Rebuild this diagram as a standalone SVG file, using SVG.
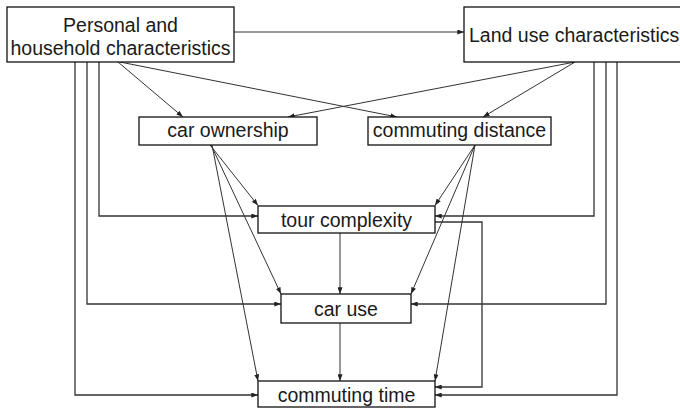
<svg xmlns="http://www.w3.org/2000/svg" width="680" height="408" viewBox="0 0 680 408">
  <defs>
    <marker id="arrow" viewBox="0 0 8 6" refX="8" refY="3" markerWidth="7" markerHeight="5" markerUnits="userSpaceOnUse" orient="auto">
      <path d="M0,0 L8,3 L0,6 z" fill="#222"/>
    </marker>
    <style>
      .box { fill: #fff; stroke: #111; stroke-width: 1.3; }
      .lbl { font-family: "Liberation Sans", Arial, sans-serif; font-size: 19.5px; fill: #1a1a1a; text-anchor: middle; }
      .edge { fill: none; stroke: #333; stroke-width: 1; marker-end: url(#arrow); }
      .route { fill: none; stroke: #333; stroke-width: 1.3; marker-end: url(#arrow); }
    </style>
  </defs>
  <rect width="680" height="408" fill="#fff"/>

  <!-- connectors -->
  <g id="connectors">
    <path class="edge" d="M234,32 H464"/>
    <path class="edge" d="M118,62 L183,117"/>
    <path class="edge" d="M120,62 L397,117"/>
    <path class="edge" d="M575,62 L288,117"/>
    <path class="edge" d="M575,62 L483,117"/>
    <path class="route" d="M99,62 V216 H258"/>
    <path class="route" d="M87,62 V304 H281"/>
    <path class="route" d="M75,62 V395 H258"/>
    <path class="route" d="M594,62 V216 H435"/>
    <path class="route" d="M606,62 V304 H411"/>
    <path class="route" d="M617,62 V395 H435"/>
    <path class="route" d="M435,222 H482 V387 H435"/>
    <path class="edge" d="M340,233 V294"/>
    <path class="edge" d="M340,323 V381"/>
    <path class="edge" d="M210,145 L258,205.5"/>
    <path class="edge" d="M211,145 L281,294"/>
    <path class="edge" d="M212,145 L258,381"/>
    <path class="edge" d="M475,145 L435,205.5"/>
    <path class="edge" d="M475,145 L411,294"/>
    <path class="edge" d="M475,145 L435,381"/>
  </g>

  <!-- nodes -->
  <g id="personal">
    <rect class="box" x="7" y="7" width="227" height="55"/>
    <text class="lbl" x="120.5" y="32">Personal and</text>
    <text class="lbl" x="120.5" y="55">household characteristics</text>
  </g>
  <g id="landuse">
    <rect class="box" x="464" y="7" width="230" height="55"/>
    <text class="lbl" x="469" y="42" text-anchor="start" style="text-anchor:start">Land use characteristics</text>
  </g>
  <g id="car-ownership">
    <rect class="box" x="139" y="117" width="178" height="28"/>
    <text class="lbl" x="228" y="137">car ownership</text>
  </g>
  <g id="commuting-distance">
    <rect class="box" x="368" y="117" width="183" height="28"/>
    <text class="lbl" x="459.5" y="137">commuting distance</text>
  </g>
  <g id="tour-complexity">
    <rect class="box" x="258" y="206" width="177" height="27"/>
    <text class="lbl" x="346.5" y="226.5">tour complexity</text>
  </g>
  <g id="car-use">
    <rect class="box" x="281" y="294" width="130" height="29"/>
    <text class="lbl" x="346" y="316">car use</text>
  </g>
  <g id="commuting-time">
    <rect class="box" x="258" y="381" width="177" height="26"/>
    <text class="lbl" x="346.5" y="402">commuting time</text>
  </g>
</svg>
